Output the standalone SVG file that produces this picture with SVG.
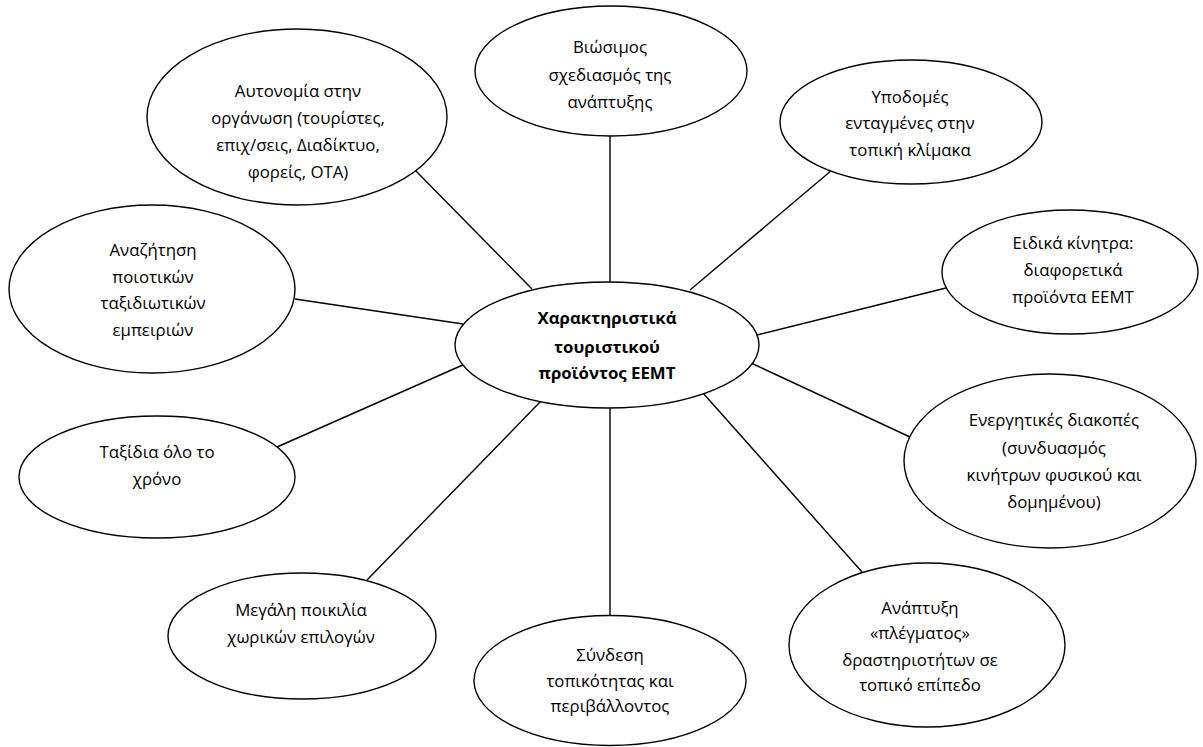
<svg xmlns="http://www.w3.org/2000/svg" width="1203" height="747" viewBox="0 0 1203 747">
<style>
.n ellipse{fill:#fff;stroke:#000;stroke-width:1.4}
.n text{font-family:"Open Sans","Noto Sans","DejaVu Sans",sans-serif;font-size:16.8px;fill:#000;text-anchor:middle}
.b text{font-weight:bold}
#connectors line{stroke:#000;stroke-width:1.4}
</style>
<rect width="1203" height="747" fill="#fff"/>
<g id="connectors">
<line x1="610" y1="136" x2="610" y2="282"/>
<line x1="415" y1="170" x2="532" y2="289"/>
<line x1="832" y1="170" x2="690" y2="290"/>
<line x1="295" y1="299" x2="463" y2="324"/>
<line x1="946" y1="288" x2="757" y2="335"/>
<line x1="277" y1="447" x2="465" y2="364"/>
<line x1="910" y1="437" x2="751" y2="363"/>
<line x1="367" y1="580" x2="541" y2="401"/>
<line x1="862" y1="572" x2="703" y2="393"/>
<line x1="610" y1="408" x2="610" y2="615"/>
</g>
<g id="n-top" class="n"><ellipse cx="611" cy="71" rx="136" ry="65"/>
<text x="610" y="53">Βιώσιμος</text><text x="610" y="81">σχεδιασμός της</text><text x="610" y="108">ανάπτυξης</text></g>
<g id="n-topleft" class="n"><ellipse cx="297" cy="117" rx="150" ry="88"/>
<text x="298" y="97">Αυτονομία στην</text><text x="298" y="124">οργάνωση (τουρίστες,</text><text x="298" y="151">επιχ/σεις, Διαδίκτυο,</text><text x="298" y="178">φορείς, ΟΤΑ)</text></g>
<g id="n-topright" class="n"><ellipse cx="911" cy="122" rx="131" ry="62"/>
<text x="910" y="103">Υποδομές</text><text x="910" y="129">ενταγμένες στην</text><text x="910" y="156">τοπική κλίμακα</text></g>
<g id="n-search" class="n"><ellipse cx="152" cy="289" rx="143" ry="84"/>
<text x="153" y="256">Αναζήτηση</text><text x="153" y="283">ποιοτικών</text><text x="153" y="309">ταξιδιωτικών</text><text x="153" y="336">εμπειριών</text></g>
<g id="n-incentives" class="n"><ellipse cx="1070" cy="272" rx="128" ry="62"/>
<text x="1073" y="249">Ειδικά κίνητρα:</text><text x="1073" y="276">διαφορετικά</text><text x="1073" y="303">προϊόντα ΕΕΜΤ</text></g>
<g id="n-center" class="n b"><ellipse cx="607" cy="345" rx="152" ry="63"/>
<text x="607" y="324">Χαρακτηριστικά</text><text x="607" y="353">τουριστικού</text><text x="607" y="379">προϊόντος ΕΕΜΤ</text></g>
<g id="n-year" class="n"><ellipse cx="157" cy="477" rx="138" ry="61"/>
<text x="157" y="458">Ταξίδια όλο το</text><text x="157" y="485">χρόνο</text></g>
<g id="n-active" class="n"><ellipse cx="1050" cy="461" rx="146" ry="87"/>
<text x="1054" y="426">Ενεργητικές διακοπές</text><text x="1054" y="454">(συνδυασμός</text><text x="1054" y="481">κινήτρων φυσικού και</text><text x="1054" y="508">δομημένου)</text></g>
<g id="n-variety" class="n"><ellipse cx="302" cy="636" rx="134" ry="63"/>
<text x="301" y="616">Μεγάλη ποικιλία</text><text x="301" y="643">χωρικών επιλογών</text></g>
<g id="n-network" class="n"><ellipse cx="927" cy="645" rx="138" ry="82"/>
<text x="920" y="614">Ανάπτυξη</text><text x="920" y="639">«πλέγματος»</text><text x="920" y="666">δραστηριοτήτων σε</text><text x="920" y="691">τοπικό επίπεδο</text></g>
<g id="n-locality" class="n"><ellipse cx="610" cy="680.5" rx="136" ry="65"/>
<text x="610" y="661">Σύνδεση</text><text x="610" y="687">τοπικότητας και</text><text x="610" y="712">περιβάλλοντος</text></g>
</svg>
